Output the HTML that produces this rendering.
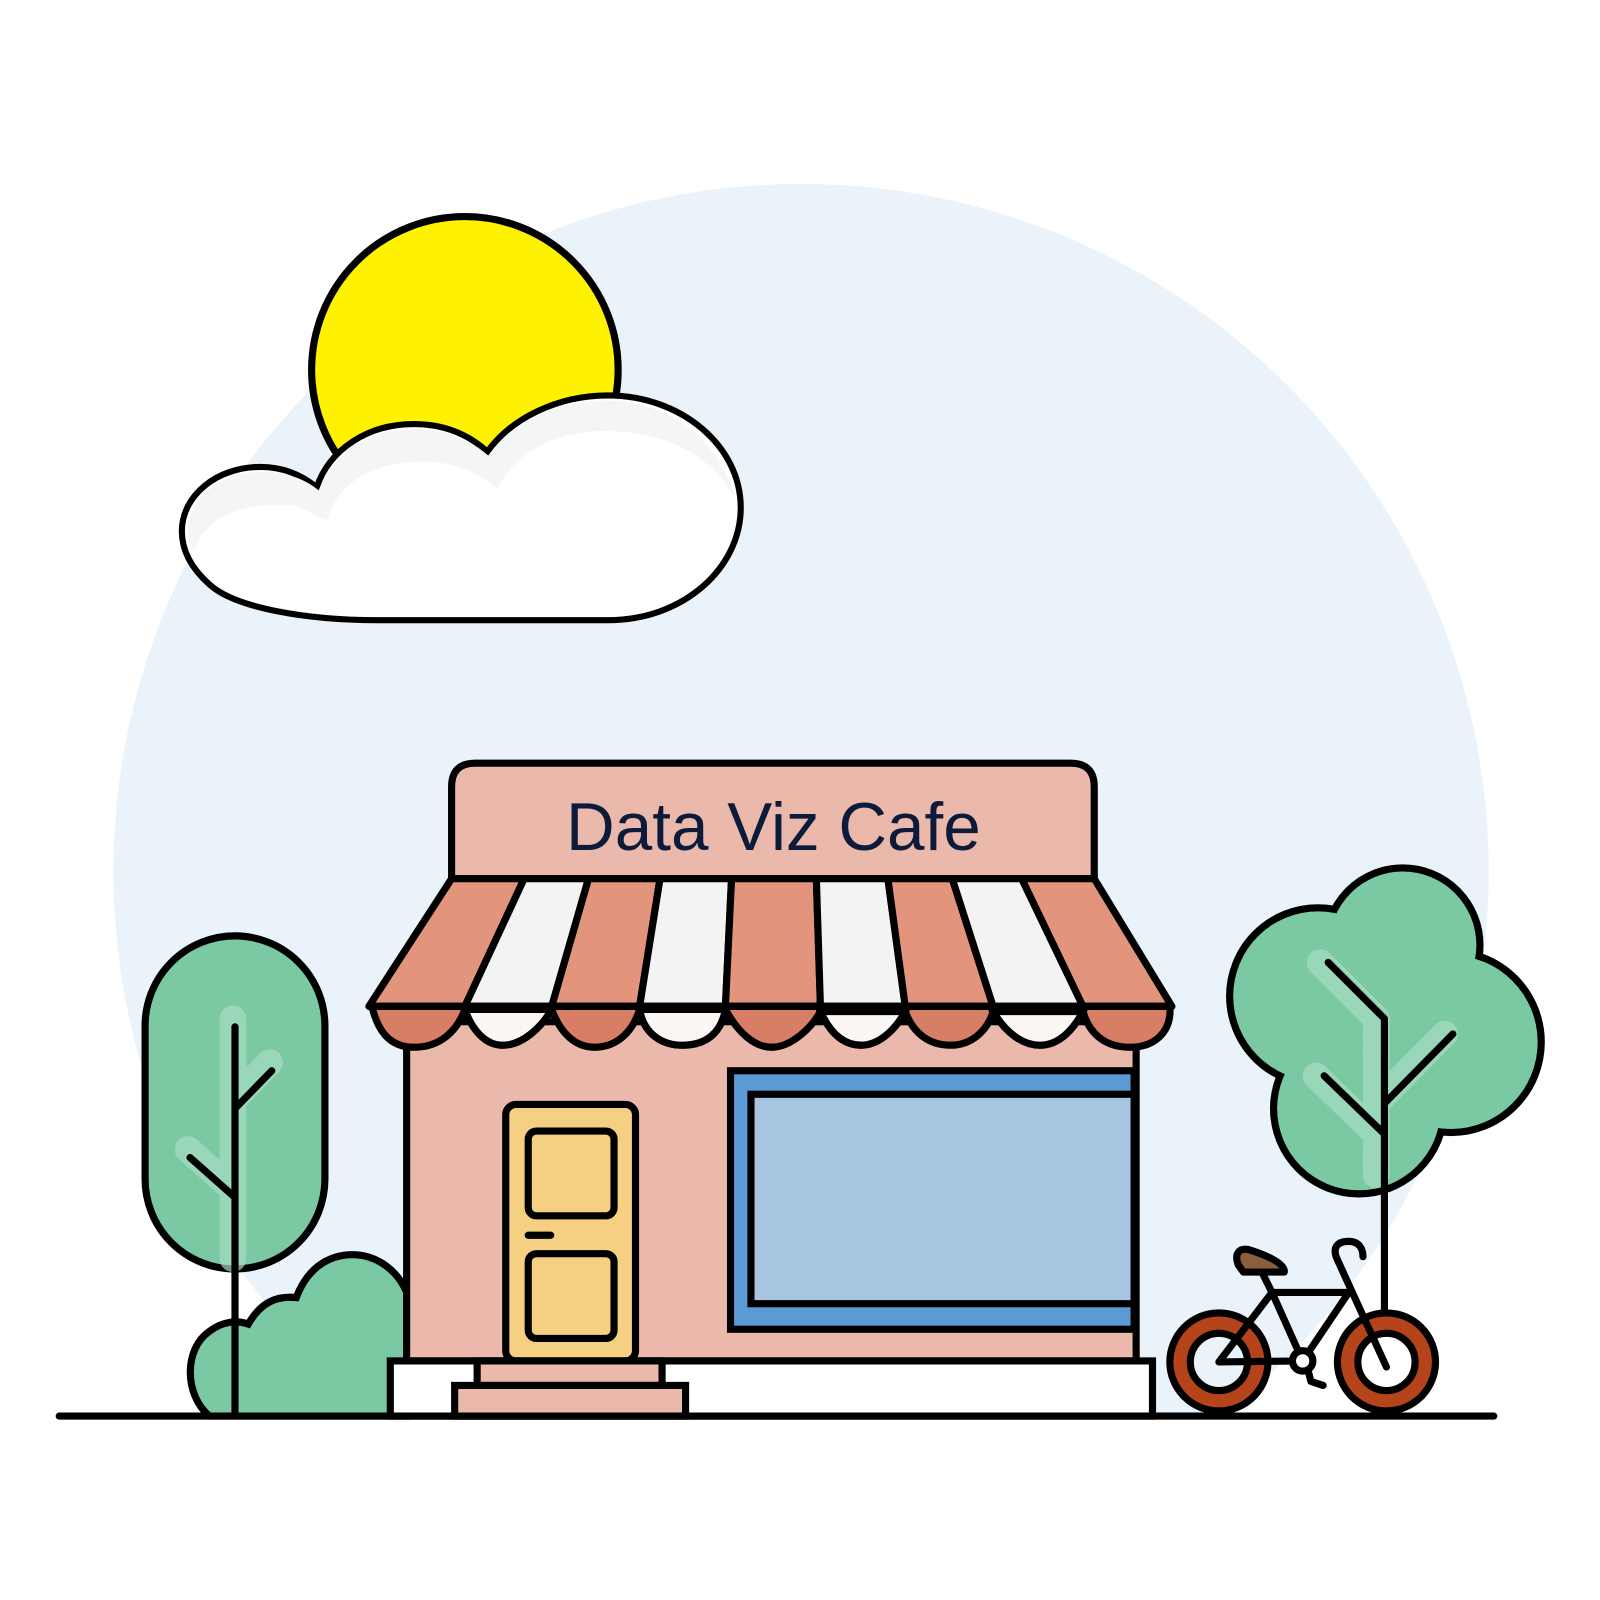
<!DOCTYPE html>
<html><head><meta charset="utf-8"><style>html,body{margin:0;padding:0;background:#fff}svg{display:block}</style></head>
<body>
<svg width="1600" height="1600" viewBox="0 0 1566 1566" xmlns="http://www.w3.org/2000/svg">
<defs><clipPath id="g"><rect x="0" y="0" width="1566" height="1386"/></clipPath></defs>
<circle cx="784" cy="853" r="673" fill="#EAF2FA" clip-path="url(#g)"/>
<circle cx="455" cy="362" r="150" fill="#FFF200" stroke="#000" stroke-width="7"/>
<path d="M370 607 L595 607 C670 607 725 555 725 497 C725 435 665 387 595 387 C545 387 500 410 477 442 C455 422 430 415 405 415 C360 415 322 440 310 477 C293 463 275 457 255 457 C212 457 178 485 178 520 C178 540 188 557 205 572 C230 595 300 607 370 607 Z" fill="#fff" stroke="#000" stroke-width="6"/>
<path d="M190 540 C200 505 240 490 290 495 L320 510 C330 470 370 450 420 452 C450 453 470 465 487 478 C505 440 550 420 600 422 C660 425 700 450 720 490 C705 430 655 393 595 392 C545 392 505 412 478 446 C455 426 430 420 405 420 C362 420 326 444 312 480 C295 466 275 462 255 462 C215 462 184 488 184 520 C184 528 186 535 190 540 Z" fill="#F4F6F6"/>
<rect x="142" y="916" width="176" height="326" rx="88" fill="#7AC9A2" stroke="#000" stroke-width="7"/>
<path d="M230 1005 V1240 M230 1085 L266 1048 M230 1172 L186 1133" stroke="#A8DCC2" stroke-width="26" stroke-linecap="round" fill="none" opacity="0.7" transform="translate(-2,-8)"/>
<path d="M205 1386 C180 1365 180 1320 205 1303 C218 1293 232 1292 243 1296 C255 1275 270 1268 290 1270 C300 1243 320 1228 345 1228 C370 1228 390 1245 398 1265 L398 1386 Z" fill="#7AC9A2" stroke="#000" stroke-width="7"/>
<path d="M230 1005 V1386 M230 1085 L266 1048 M230 1172 L186 1133" stroke="#000" stroke-width="7" stroke-linecap="round" fill="none"/>
<g stroke="#000" stroke-width="14" fill="#7AC9A2">
<circle cx="1373" cy="925" r="72"/><circle cx="1290" cy="975" r="83"/><circle cx="1420" cy="1020" r="85"/><circle cx="1330" cy="1085" r="80"/></g>
<g fill="#7AC9A2">
<circle cx="1373" cy="925" r="72"/><circle cx="1290" cy="975" r="83"/><circle cx="1420" cy="1020" r="85"/><circle cx="1330" cy="1085" r="80"/></g>
<path d="M1355 997 V1150 M1355 997 L1300 942 M1355 1080 L1422 1012 M1355 1110 L1296 1053" stroke="#A8DCC2" stroke-width="26" stroke-linecap="round" fill="none" opacity="0.7" transform="translate(-8,0)"/>
<path d="M1355 997 V1386 M1355 997 L1300 942 M1355 1080 L1422 1012 M1355 1110 L1296 1053" stroke="#000" stroke-width="7" stroke-linecap="round" fill="none"/>
<rect x="398" y="1000" width="714" height="332" fill="#EAB9AC" stroke="#000" stroke-width="7"/>
<path d="M442 860 V770 Q442 747 465 747 H1048 Q1071 747 1071 770 V860 Z" fill="#EBB8AC" stroke="#000" stroke-width="7"/>
<text x="757" y="832" text-anchor="middle" font-family="Liberation Sans, sans-serif" font-size="66" fill="#0D1B3A">Data Viz Cafe</text>
<g stroke="#000" stroke-width="7" stroke-linejoin="round">
<polygon points="442,860 513,860 455,985 361,985" fill="#E2947C"/>
<polygon points="513,860 576,860 540,985 455,985" fill="#F3F3F3"/>
<polygon points="576,860 646,860 626,985 540,985" fill="#E2947C"/>
<polygon points="646,860 716,860 710,985 626,985" fill="#F3F3F3"/>
<polygon points="716,860 799,860 803,985 710,985" fill="#E2947C"/>
<polygon points="799,860 869,860 886,985 803,985" fill="#F3F3F3"/>
<polygon points="869,860 932,860 972,985 886,985" fill="#E2947C"/>
<polygon points="932,860 1000,860 1060,985 972,985" fill="#F3F3F3"/>
<polygon points="1000,860 1071,860 1147,985 1060,985" fill="#E2947C"/>
<path d="M364 985 C370 1010 382 1025 405 1025 C430 1025 447 1010 455 988 C462 1008 475 1023 492 1023 C512 1023 530 1005 540 988 C548 1010 562 1025 582 1025 C605 1025 620 1008 626 988 C630 1012 648 1023 668 1023 C692 1023 706 1010 710 988 C722 1010 738 1025 755 1025 C775 1025 795 1005 803 990 C812 1010 825 1023 843 1023 C862 1023 878 1005 886 990 C894 1012 910 1023 930 1023 C950 1023 966 1010 972 990 C984 1010 1000 1023 1018 1023 C1038 1023 1052 1005 1060 990 C1066 1012 1082 1025 1106 1025 C1130 1025 1147 1010 1145 985 Z" fill="#D97E66"/>
</g>
<g fill="#FBF7F4" stroke="#000" stroke-width="7">
<path d="M455 988 C462 1008 475 1023 492 1023 C512 1023 530 1005 540 988 Z"/>
<path d="M626 988 C630 1012 648 1023 668 1023 C692 1023 706 1010 710 988 Z"/>
<path d="M803 990 C812 1010 825 1023 843 1023 C862 1023 878 1005 886 990 Z"/>
<path d="M972 990 C984 1010 1000 1023 1018 1023 C1038 1023 1052 1005 1060 990 Z"/>
</g>
<line x1="361" y1="985" x2="1147" y2="985" stroke="#000" stroke-width="7"/>
<rect x="495" y="1081" width="127" height="251" rx="10" fill="#F5CF82" stroke="#000" stroke-width="7"/>
<rect x="517" y="1107" width="84" height="83" rx="8" fill="#F5CF82" stroke="#000" stroke-width="7"/>
<rect x="517" y="1227" width="84" height="83" rx="8" fill="#F5CF82" stroke="#000" stroke-width="7"/>
<line x1="517" y1="1209" x2="539" y2="1209" stroke="#000" stroke-width="7" stroke-linecap="round"/>
<rect x="715" y="1048" width="395" height="253" fill="#5B9BD5" stroke="#000" stroke-width="7"/>
<rect x="735" y="1071" width="375" height="205" fill="#A8C6E2" stroke="#000" stroke-width="7"/>
<rect x="382" y="1332" width="746" height="54" fill="#fff" stroke="#000" stroke-width="7"/>
<rect x="467" y="1332" width="181" height="24" fill="#EBB8AC" stroke="#000" stroke-width="7"/>
<rect x="445" y="1356" width="226" height="30" fill="#EBB8AC" stroke="#000" stroke-width="7"/>
<g stroke="#000" stroke-width="7" fill="none" stroke-linecap="round" stroke-linejoin="round">
<circle cx="1193" cy="1333" r="48" fill="#B5441B"/>
<circle cx="1193" cy="1333" r="28" fill="#EAF2FA"/>
<circle cx="1357" cy="1333" r="48" fill="#B5441B"/>
<circle cx="1357" cy="1333" r="28" fill="#fff"/>
<path d="M1193 1333 L1245 1265 L1275 1332 Z M1245 1265 H1320 L1275 1332 M1245 1265 L1235 1245 M1357 1338 L1309 1233 C1303 1220 1310 1215 1320 1215 C1330 1215 1334 1222 1334 1230 M1280 1340 L1283 1352 L1295 1356"/>
<circle cx="1275" cy="1332" r="10" fill="#fff"/>
<path d="M1217 1245 H1257 C1258 1236 1238 1228 1222 1223 C1212 1221 1208 1228 1212 1238 Z" fill="#8B5E3C"/>
</g>
<line x1="58" y1="1386" x2="1462" y2="1386" stroke="#000" stroke-width="7" stroke-linecap="round"/>
</svg>
</body></html>
